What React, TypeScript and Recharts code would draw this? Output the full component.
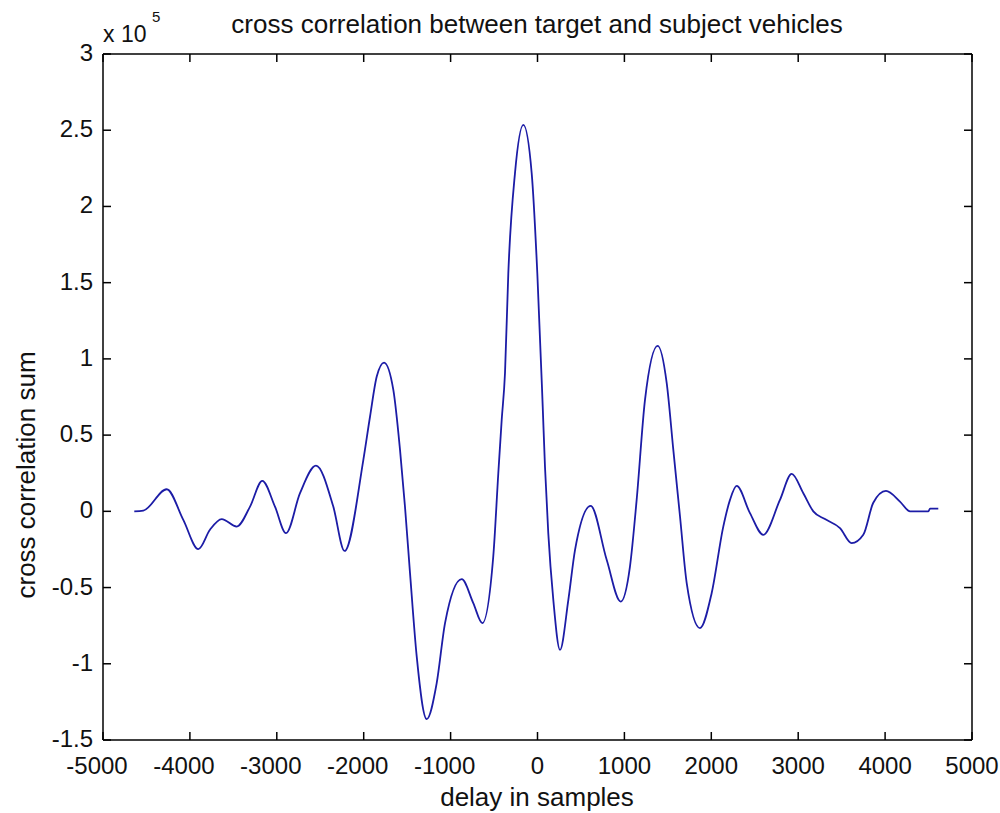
import React from "react";
import { LineChart, Line, XAxis, YAxis } from "recharts";

// delay (samples) and cross correlation sum
const delays = [
  -4640, -4536, -4267, -4076, -3903, -3769, -3634, -3461, -3308, -3167,
  -3021, -2894, -2733, -2549, -2350, -2220, -2004, -1927, -1850, -1766,
  -1659, -1582, -1525, -1467, -1390, -1275, -1160, -1064, -872, -739,
  -635, -509, -451, -412, -374, -336, -259, -163, -67, -2,
  60, 86, 124, 182, 259, 355, 432, 612, 796, 957,
  1064, 1141, 1237, 1383, 1487, 1563, 1640, 1717, 1870, 2004,
  2138, 2215, 2292, 2445, 2598, 2790, 2925, 3059, 3174, 3308,
  3481, 3615, 3749, 3864, 4010, 4171, 4287, 4498, 4517, 4612,
];

const corrSum = [
  0, 500, 14500, -5600, -24800, -12100, -5100, -10000, 3100, 20000,
  3100, -14300, 11900, 30000, 3100, -26000, 33800, 62200, 88400, 97600,
  79700, 40300, 3100, -40500, -95200, -136300, -112700, -73300, -44500, -60200,
  -73300, -29600, 25000, 60000, 90700, 156000, 221900, 253500, 221900, 156000,
  68700, 29400, -14300, -58100, -90900, -58100, -25300, 3600, -31800, -59200,
  -36200, 7500, 73100, 108600, 84100, 40300, -3400, -47100, -76600, -53700,
  -10000, 7500, 16700, -1200, -15400, 7500, 24600, 11900, 0, -5100,
  -11000, -20900, -15400, 5600, 13400, 6400, 0, 0, 1800, 1800,
];

const xTicks = [-5000, -4000, -3000, -2000, -1000, 0, 1000, 2000, 3000, 4000, 5000];
const yTicks = [-150000, -100000, -50000, 0, 50000, 100000, 150000, 200000, 250000, 300000];

const data = delays.map((d, i) => ({ delay: d, sum: corrSum[i] }));

const FONT = '"Liberation Sans", Arial, Helvetica, sans-serif';
const TICK = 8;

const fmtY = (v: number) => String(v / 1e5);

const BottomTick = (props: any) => {
  const { x, y, payload } = props;
  const v = payload.value;
  return (
    <g>
      <line x1={x} y1={y} x2={x} y2={y - TICK} stroke="#000" strokeWidth={1.5} />
      <text x={v < 0 ? x - 6 : x} y={y + 34} textAnchor="middle" fontSize={24} fontFamily={FONT} fill="#111">
        {v}
      </text>
    </g>
  );
};

const TopTick = (props: any) => {
  const { x, y } = props;
  return <line x1={x} y1={y} x2={x} y2={y + TICK} stroke="#000" strokeWidth={1.5} />;
};

const LeftTick = (props: any) => {
  const { x, y, payload } = props;
  return (
    <g>
      <line x1={x} y1={y} x2={x + TICK} y2={y} stroke="#000" strokeWidth={1.5} />
      <text x={x - 10} y={y + 7} textAnchor="end" fontSize={24} fontFamily={FONT} fill="#111">
        {fmtY(payload.value)}
      </text>
    </g>
  );
};

const RightTick = (props: any) => {
  const { x, y } = props;
  return <line x1={x} y1={y} x2={x - TICK} y2={y} stroke="#000" strokeWidth={1.5} />;
};

export default function App() {
  return (
    <div style={{ position: "absolute", left: 0, top: 0, width: 1000, height: 813, background: "#fff" }}>
      <LineChart width={1000} height={813} data={data} margin={{ top: 53, right: 27, bottom: 72, left: 102 }}>
        <XAxis
          dataKey="delay"
          type="number"
          domain={[-5000, 5000]}
          ticks={xTicks}
          interval={0}
          height={1}
          tickSize={0}
          tickMargin={0}
          tickLine={false}
          axisLine={{ stroke: "#000", strokeWidth: 1.5 }}
          tick={<BottomTick />}
          allowDataOverflow
        />
        <XAxis
          xAxisId="top"
          orientation="top"
          dataKey="delay"
          type="number"
          domain={[-5000, 5000]}
          ticks={xTicks}
          interval={0}
          height={1}
          tickSize={0}
          tickMargin={0}
          tickLine={false}
          axisLine={{ stroke: "#000", strokeWidth: 1.5 }}
          tick={<TopTick />}
          allowDataOverflow
        />
        <YAxis
          type="number"
          domain={[-150000, 300000]}
          ticks={yTicks}
          interval={0}
          width={1}
          tickSize={0}
          tickMargin={0}
          tickLine={false}
          axisLine={{ stroke: "#000", strokeWidth: 1.5 }}
          tick={<LeftTick />}
          allowDataOverflow
        />
        <YAxis
          yAxisId="right"
          orientation="right"
          type="number"
          domain={[-150000, 300000]}
          ticks={yTicks}
          interval={0}
          width={1}
          tickSize={0}
          tickMargin={0}
          tickLine={false}
          axisLine={{ stroke: "#000", strokeWidth: 1.5 }}
          tick={<RightTick />}
          allowDataOverflow
        />
        <Line
          dataKey="sum"
          type="monotone"
          stroke="#1c1ca6"
          strokeWidth={1.8}
          dot={false}
          activeDot={false}
          isAnimationActive={false}
        />
        <Line
          xAxisId="top"
          yAxisId="right"
          dataKey="sum"
          stroke="none"
          dot={false}
          activeDot={false}
          isAnimationActive={false}
        />
      </LineChart>
      <svg width={1000} height={813} style={{ position: "absolute", left: 0, top: 0, pointerEvents: "none" }}>
        <text x={537} y={33} textAnchor="middle" fontSize={26} fontFamily={FONT} fill="#111">
          cross correlation between target and subject vehicles
        </text>
        <text x={537} y={806} textAnchor="middle" fontSize={26} fontFamily={FONT} fill="#111">
          delay in samples
        </text>
        <text
          transform="translate(35, 475) rotate(-90)"
          textAnchor="middle"
          fontSize={26}
          fontFamily={FONT}
          fill="#111"
        >
          cross correlation sum
        </text>
        <text x={103} y={42} fontSize={23} fontFamily={FONT} fill="#111">
          x 10
        </text>
        <text x={152} y={22} fontSize={15} fontFamily={FONT} fill="#111">
          5
        </text>
      </svg>
    </div>
  );
}
